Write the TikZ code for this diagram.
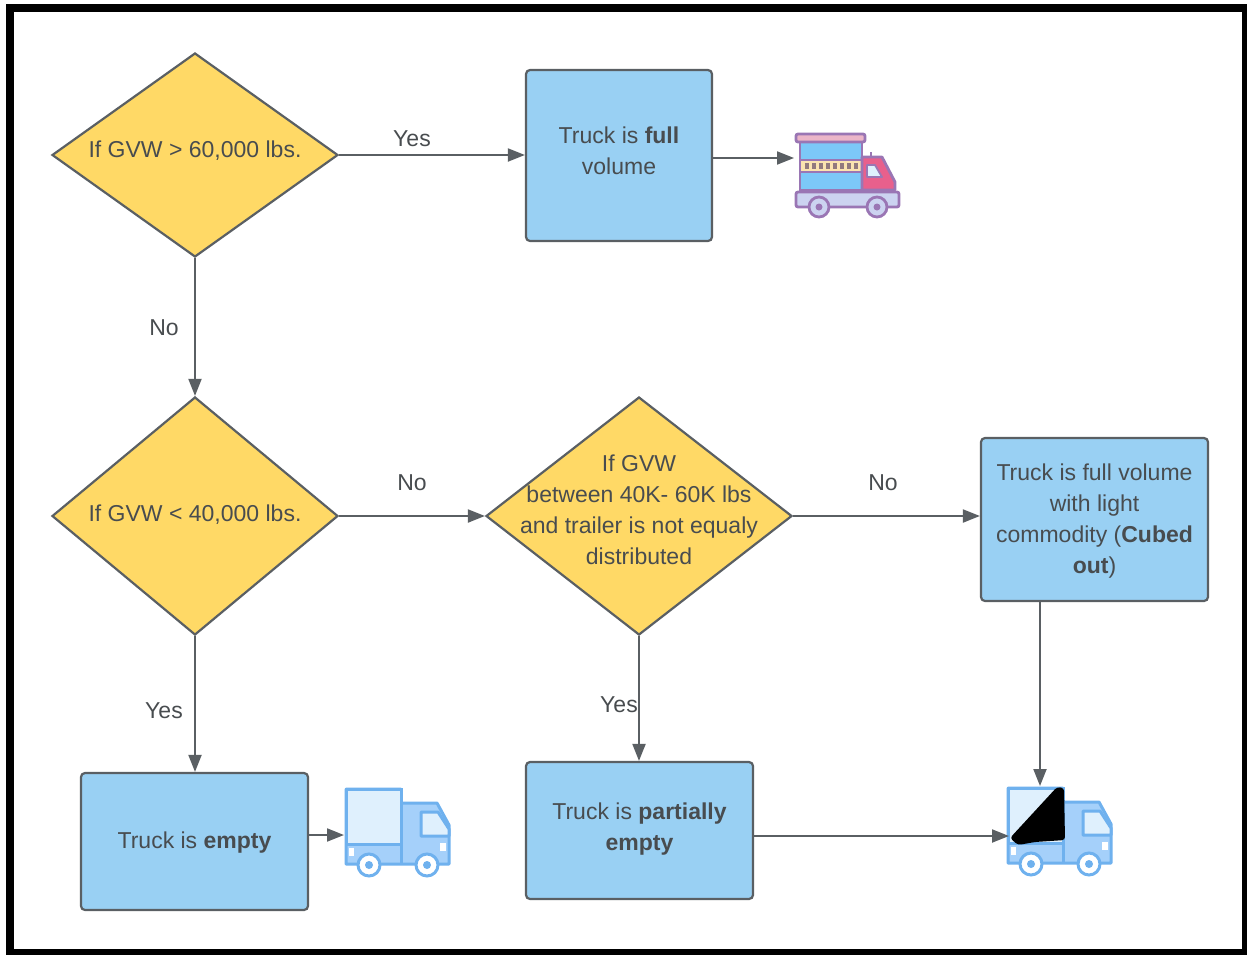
\documentclass[tikz,border=0pt]{standalone}
\usepackage{fontspec}
\setmainfont{Liberation Sans}
\usetikzlibrary{shapes.geometric,arrows.meta}
\definecolor{decfill}{HTML}{FFD966}
\definecolor{boxfill}{HTML}{99D0F3}
\definecolor{linegray}{HTML}{5A5F63}
\definecolor{bluedark}{HTML}{6FB1EE}
\definecolor{bluemid}{HTML}{A5D0FA}
\definecolor{bluelight}{HTML}{DFF0FD}
\definecolor{plum}{HTML}{9A76B4}
\definecolor{skyblue}{HTML}{7CC8F8}
\definecolor{foodcream}{HTML}{FBE3B0}
\definecolor{foodpink}{HTML}{E8608C}
\definecolor{foodrail}{HTML}{EBB5C8}
\definecolor{foodbase}{HTML}{CCD3F0}
% text block of no size, so that it never stretches its shape
\newcommand{\flatlabel}[2][0pt]{\makebox[0pt]{\raisebox{#1}[0pt][0pt]{\parbox{300pt}{\centering #2}}}}
\tikzset{
	dec/.style={diamond,draw=linegray,line width=2.2pt,fill=decfill,inner sep=0pt,font=\fontsize{23}{31}\selectfont,text=linegray!80!black},
	res/.style={rectangle,rounded corners=4pt,draw=linegray,line width=2.2pt,fill=boxfill,inner sep=0pt,font=\fontsize{23}{31}\selectfont,text=linegray!80!black},
	flow/.style={-{Triangle[length=17pt,width=13pt]},draw=linegray,line width=2pt},
	lab/.style={inner sep=0pt,font=\fontsize{23}{28}\selectfont,text=linegray!80!black},
	bluetruck/.pic={
		\draw[bluedark,line width=3pt,fill=bluemid,line join=round] (0,0)--(55,0)--(55,14)--(91,14)--(103,36)--(103,75)--(0,75)--cycle;
		\draw[bluedark,line width=3pt,fill=bluelight] (0,0) rectangle (55,55);
		\draw[bluedark,line width=3pt] (55,55)--(55,75);
		\draw[bluedark,line width=3pt,fill=bluelight,line join=round] (75,23)--(92,23)--(103,40)--(103,47)--(75,47)--cycle;
		\fill[white] (3,59) rectangle (8,67);
		\fill[white] (94,54) rectangle (100,62);
		\foreach \wx in {23,81}{
			\draw[bluedark,line width=3pt,fill=white] (\wx,76) circle (11);
			\fill[bluedark] (\wx,76) circle (4);
		}
	},
	foodtruck/.pic={
		\fill[skyblue] (4,8) rectangle (66,56);
		\draw[plum,line width=2.8pt] (4,8) rectangle (66,56);
		\draw[plum,line width=2.8pt,fill=foodcream] (4,26) rectangle (66,38);
		\foreach \dx in {9,16,...,58}{
			\fill[plum!70!olive] (\dx,29) rectangle ++(3.5,6);
		}
		\draw[plum,line width=2pt] (75,23)--(75,18);
		\draw[plum,line width=2.8pt,fill=foodpink,line join=round] (66,23)--(86,23)--(99,48)--(99,56)--(66,56)--cycle;
		\draw[plum,line width=1.8pt,fill=bluelight,line join=round] (71,31)--(79,31)--(86,43)--(71,43)--cycle;
		\draw[plum,line width=2.8pt,fill=foodrail,rounded corners=2pt] (0,0) rectangle (69,8);
		\draw[plum,line width=2.8pt,fill=foodbase,rounded corners=2pt] (0,58) rectangle (103,73);
		\foreach \wx in {23,81}{
			\draw[plum,line width=2.8pt,fill=foodbase] (\wx,73) circle (10);
			\fill[plum] (\wx,73) circle (3.5);
		}
	},
}
\begin{document}
\begin{tikzpicture}[x=1pt,y=-1pt]
	\useasboundingbox (0,0) rectangle (1247,954);
	\draw[black,line width=8pt] (10,8) rectangle (1246,953);

	\node[dec,aspect=1.402,minimum width=286pt,minimum height=204pt] (gvwhigh) at (195,155) {\flatlabel[-2pt]{If GVW > 60,000 lbs.}};
	\node[dec,aspect=1.202,minimum width=286pt,minimum height=238pt] (gvwlow) at (195,516) {\flatlabel[-5pt]{If GVW < 40,000 lbs.}};
	\node[dec,aspect=1.286,minimum width=306pt,minimum height=238pt] (gvwmid) at (639,516) {\flatlabel{If GVW\\between 40K- 60K lbs\\and trailer is not equaly\\distributed}};

	\node[res,minimum width=186pt,minimum height=171pt] (full) at (619,155.5) {\flatlabel[-1pt]{Truck is \textbf{full}\\volume}};
	\node[res,minimum width=227pt,minimum height=163pt] (cubed) at (1094.5,519.5) {\flatlabel[-7.5pt]{Truck is full volume\\with light\\commodity (\textbf{Cubed}\\\textbf{out})}};
	\node[res,minimum width=227pt,minimum height=137pt] (empty) at (194.5,841.5) {\flatlabel[-7pt]{Truck is \textbf{empty}}};
	\node[res,minimum width=227pt,minimum height=137pt] (partial) at (639.5,830.5) {\flatlabel[-5pt]{Truck is \textbf{partially}\\\textbf{empty}}};

	\pic at (796,134) {foodtruck};
	\pic at (346,789) {bluetruck};
	\pic at (1008,788) {bluetruck};
	\fill[black,rounded corners=3pt] (1010,838)--(1057,787)--(1064,788)--(1065,840)--(1035,842)--(1018,845)--cycle;

	\coordinate (foodin) at (794,158);
	\coordinate (emptyin) at (344,835);
	\coordinate (partin) at (1009,836);
	\coordinate (cubedin) at (1040,786);

	\draw[flow] (gvwhigh.east)--(gvwhigh.east-|full.west);
	\draw[flow] (full.east|-foodin)--(foodin);
	\draw[flow] (gvwhigh.south)--(gvwlow.north);
	\draw[flow] (gvwlow.east)--(gvwmid.west);
	\draw[flow] (gvwmid.east)--(cubed.west|-gvwmid.east);
	\draw[flow] (gvwlow.south)--(empty.north-|gvwlow.south);
	\draw[flow] (gvwmid.south)--(partial.north-|gvwmid.south);
	\draw[flow] (empty.east|-emptyin)--(emptyin);
	\draw[flow] (partial.east|-partin)--(partin);
	\draw[flow] (cubed.south-|cubedin)--(cubedin);

	\node[lab] (yesa) at (412,139) {Yes};
	\node[lab] (noa) at (164,328) {No};
	\node[lab] (nob) at (412,483) {No};
	\node[lab] (noc) at (883,483) {No};
	\node[lab] (yesb) at (164,711) {Yes};
	\node[lab] (yesc) at (619,705) {Yes};
\end{tikzpicture}
\end{document}
